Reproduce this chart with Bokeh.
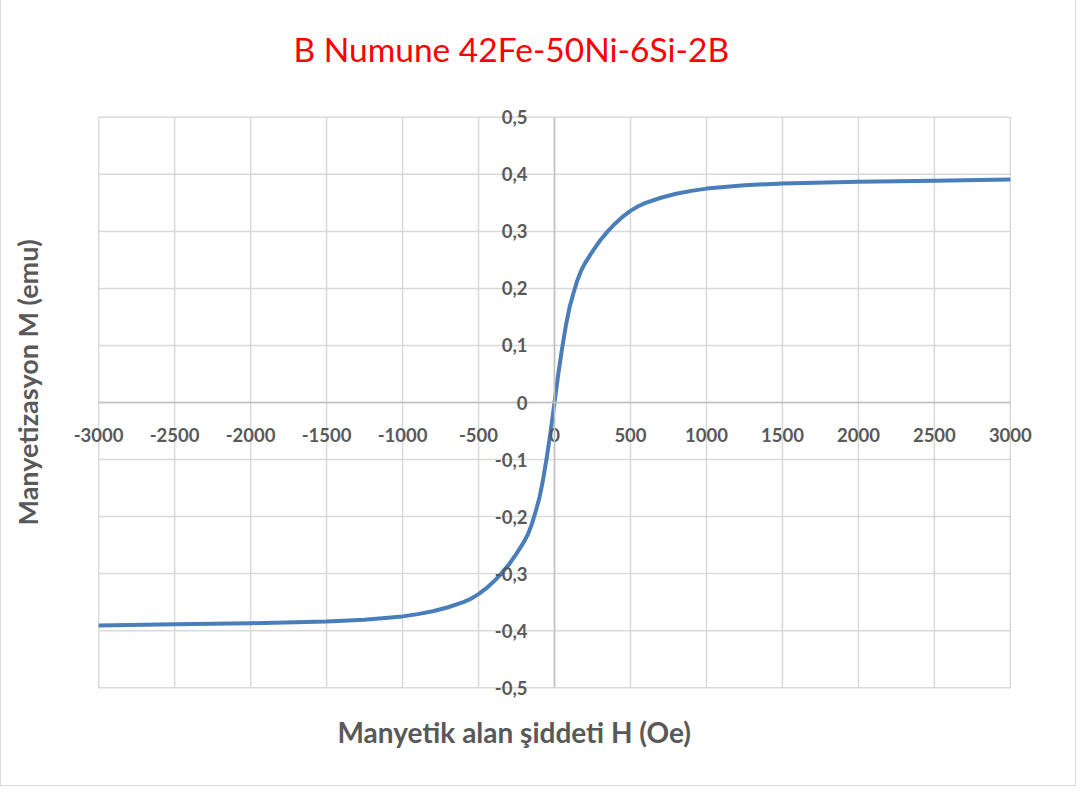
from bokeh.plotting import figure
from bokeh.models import Range1d, LinearAxis, FixedTicker, Title
from bokeh.embed import file_html
from bokeh.resources import INLINE

chart_title = "B Numune 42Fe-50Ni-6Si-2B"
x_title = "Manyetik alan şiddeti H (Oe)"
y_title = "Manyetizasyon M (emu)"

# Applied field H (Oe)
H = [-3000, -2500, -2000, -1500, -1250, -1000, -900, -800, -700, -600, -550,
     -500, -450, -400, -350, -300, -250, -200, -175, -150, -125, -100, -75, -50, -25,
     0,
     25, 50, 75, 100, 125, 150, 175, 200, 250, 300, 350, 400, 450, 500,
     550, 600, 700, 800, 900, 1000, 1250, 1500, 2000, 2500, 3000]
# Magnetization M (emu)
M = [-0.391, -0.389, -0.387, -0.384, -0.381, -0.375, -0.371, -0.366, -0.359, -0.350, -0.344,
     -0.336, -0.326, -0.314, -0.300, -0.284, -0.265, -0.244, -0.231, -0.214, -0.192, -0.168, -0.135, -0.095, -0.050,
     0.000,
     0.050, 0.095, 0.135, 0.168, 0.192, 0.214, 0.231, 0.244, 0.265, 0.284, 0.300, 0.314, 0.326, 0.336,
     0.344, 0.350, 0.359, 0.366, 0.371, 0.375, 0.381, 0.384, 0.387, 0.389, 0.391]

x_ticks = [-3000, -2500, -2000, -1500, -1000, -500, 0, 500, 1000, 1500, 2000, 2500, 3000]
x_tick_labels = ["-3000", "-2500", "-2000", "-1500", "-1000", "-500", "0",
                 "500", "1000", "1500", "2000", "2500", "3000"]
y_ticks = [-0.5, -0.4, -0.3, -0.2, -0.1, 0.0, 0.1, 0.2, 0.3, 0.4, 0.5]
y_tick_labels = ["-0,5", "-0,4", "-0,3", "-0,2", "-0,1", "0", "0,1", "0,2", "0,3", "0,4", "0,5"]

x_lo, x_hi = -3000, 3000
y_lo, y_hi = -0.5, 0.5

GRAY_TXT = "#595959"
GRID = "#d9d9d9"
FONT = "Lato"

p = figure(width=1076, height=786,
           x_range=Range1d(-3330, 3330), y_range=Range1d(-0.54, 0.54),
           x_axis_type=None, y_axis_type=None,
           output_backend="svg", toolbar_location=None,
           min_border_left=47, min_border_right=17,
           min_border_top=93, min_border_bottom=76)
p.outline_line_color = None
p.background_fill_color = "white"
p.border_fill_color = "white"
p.styles = {"border-left": "1px solid #d9d9d9", "border-right": "1px solid #d9d9d9",
            "border-bottom": "1px solid #d9d9d9"}

# gridlines limited to the plotting area
p.segment(x0=x_ticks, y0=[y_lo] * len(x_ticks), x1=x_ticks, y1=[y_hi] * len(x_ticks),
          line_color=GRID, line_width=1.5)
p.segment(x0=[x_lo] * len(y_ticks), y0=y_ticks, x1=[x_hi] * len(y_ticks), y1=y_ticks,
          line_color=GRID, line_width=1.5)

common = dict(axis_line_color="#bfbfbf", axis_line_width=1.5,
              major_tick_line_color=None, minor_tick_line_color=None,
              major_label_text_font=FONT, major_label_text_font_style="bold",
              major_label_text_font_size="18.5px", major_label_text_color=GRAY_TXT)
xaxis = LinearAxis(fixed_location=0, ticker=FixedTicker(ticks=x_ticks),
                   bounds=(x_lo, x_hi), major_label_standoff=19,
                   major_label_overrides={t: s for t, s in zip(x_ticks, x_tick_labels)},
                   **common)
yaxis = LinearAxis(fixed_location=0, ticker=FixedTicker(ticks=y_ticks),
                   bounds=(y_lo, y_hi), major_label_standoff=21,
                   major_label_overrides={t: s for t, s in zip(y_ticks, y_tick_labels)},
                   **common)
p.add_layout(xaxis, "below")
p.add_layout(yaxis, "left")

p.line(H, M, line_color="#4a7ebb", line_width=4, line_join="round")

p.title.text = chart_title
p.title.text_font = FONT
p.title.text_font_style = "normal"
p.title.text_font_size = "33.5px"
p.title.text_color = "#ff0000"
p.title.align = "left"
p.title.offset = 245
p.title.standoff = 52

xt = Title(text=x_title, text_font=FONT, text_font_style="bold", text_font_size="28px",
           text_color=GRAY_TXT, align="left", offset=289, standoff=5)
p.add_layout(xt, "below")
yt = Title(text=y_title, text_font=FONT, text_font_style="bold", text_font_size="27px",
           text_color=GRAY_TXT, align="left", offset=185, standoff=10)
p.add_layout(yt, "left")

open("out.html", "w").write(file_html(p, INLINE))
